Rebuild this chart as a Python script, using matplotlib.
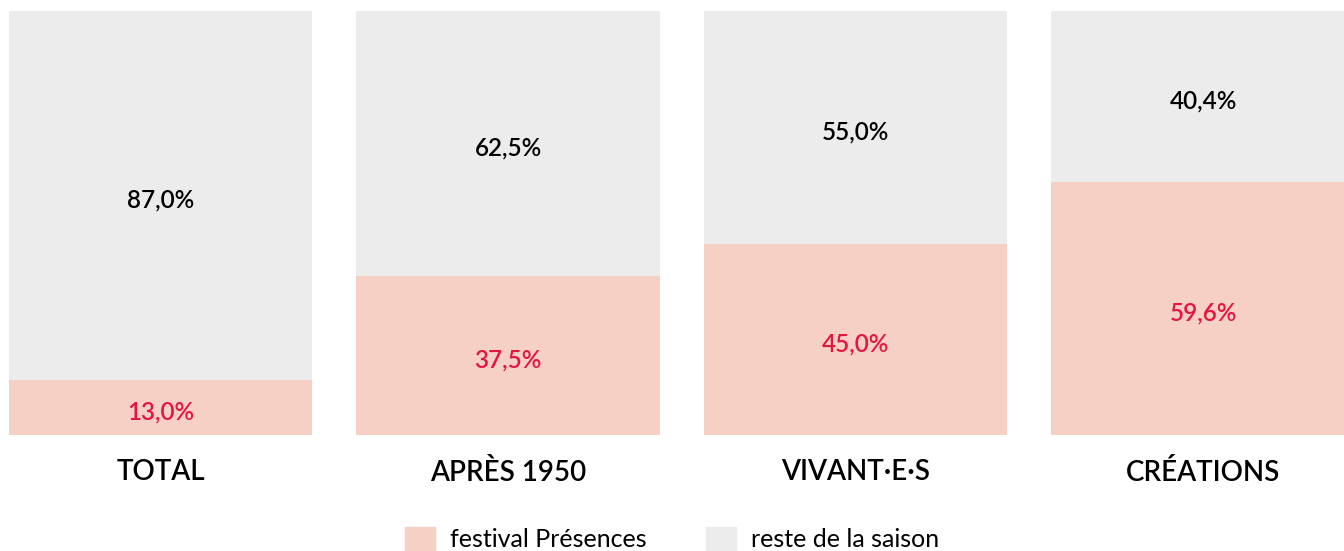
import matplotlib
matplotlib.use("Agg")
import matplotlib.pyplot as plt
from matplotlib.patches import Patch

# data
categories = ["TOTAL", "APRÈS 1950", "VIVANT·E·S", "CRÉATIONS"]
festival = [13.0, 37.5, 45.0, 59.6]
reste = [87.0, 62.5, 55.0, 40.4]
series_labels = ["festival Présences", "reste de la saison"]

pink = "#f6cfc5"
grey = "#ececec"
red = "#e3173e"

plt.rcParams["font.family"] = ["Lato", "DejaVu Sans"]

fig = plt.figure(figsize=(13.44, 5.51), dpi=100)
ax = fig.add_axes([0, 116 / 551, 1, 424 / 551])

x = list(range(len(categories)))
width = 0.872
ax.bar(x, festival, width=width, color=pink)
ax.bar(x, reste, width=width, bottom=festival, color=grey)

def fmt(v):
    return f"{v:.1f}%".replace(".", ",")

# small downward nudge so the labels sit like in the original
nudge = 1.1
for i in x:
    ax.text(i, festival[i] / 2 - nudge, fmt(festival[i]), ha="center", va="center",
            color=red, fontsize=17.5, fontweight="semibold")
    ax.text(i, festival[i] + reste[i] / 2 - nudge, fmt(reste[i]), ha="center", va="center",
            color="black", fontsize=17.5, fontweight="semibold")
    ax.text(i, -8.8, categories[i], ha="center", va="center",
            color="black", fontsize=20, fontweight="semibold", clip_on=False)

ax.set_xlim(-160.5 / 347.5, (1344 - 160.5) / 347.5)
ax.set_ylim(0, 100)
ax.axis("off")

handles = [Patch(color=pink, label=series_labels[0]),
           Patch(color=grey, label=series_labels[1])]
leg = fig.legend(handles=handles, loc="center", bbox_to_anchor=(0.5, 12 / 551),
                 ncol=2, frameon=False, handlelength=1.2, handleheight=1.1,
                 handletextpad=0.6, columnspacing=2.4,
                 prop={"size": 18, "weight": "normal"})
for t in leg.get_texts():
    t.set_color("black")

fig.savefig("out.png", dpi=100)
